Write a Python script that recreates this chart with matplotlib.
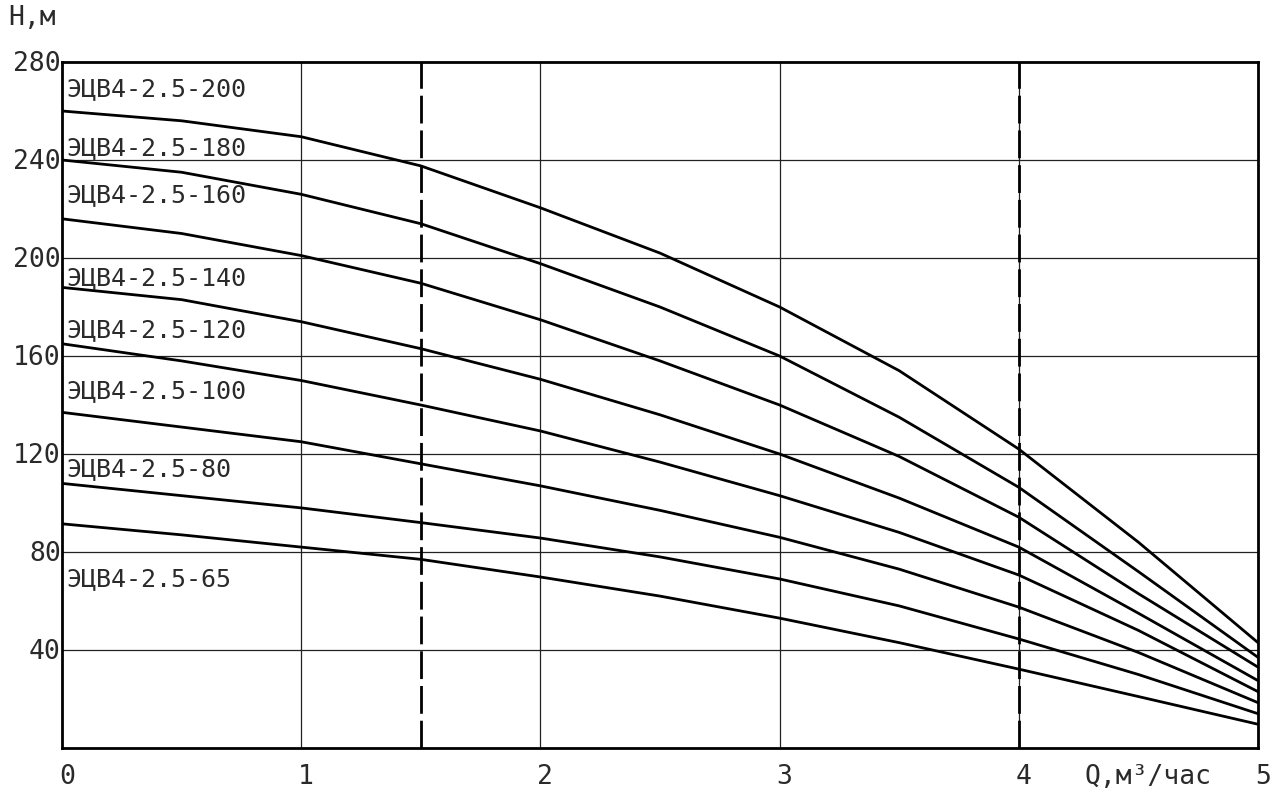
import numpy as np
import matplotlib
matplotlib.use('Agg')
import matplotlib.pyplot as plt

# flow, m3/h
q = [0, 0.5, 1, 1.5, 2, 2.5, 3, 3.5, 4, 4.5, 5]

# head curves, m
h200 = [260, 256, 249.5, 237.6, 220.5, 202, 180, 154, 122, 84, 43]
h180 = [240, 235, 226, 214, 197.7, 180, 160, 135, 106.4, 72, 37]
h160 = [216, 210, 201, 189.7, 174.8, 158, 140, 119, 94.2, 63, 33]
h140 = [188, 183, 174, 163, 150.5, 136, 120, 102, 82, 55, 27.5]
h120 = [165, 158, 150, 140, 129.4, 116.7, 103, 88, 70.6, 48, 23]
h100 = [137, 131, 125, 116, 107, 97, 86, 73, 57.5, 39, 18.5]
h80 = [108, 103, 98, 92, 85.7, 78, 69, 58, 44.5, 30, 14]
h65 = [91.5, 87, 82, 77, 69.8, 62, 53, 43, 32.2, 21, 9.7]

names = ['ЭЦВ4-2.5-200', 'ЭЦВ4-2.5-180', 'ЭЦВ4-2.5-160', 'ЭЦВ4-2.5-140',
         'ЭЦВ4-2.5-120', 'ЭЦВ4-2.5-100', 'ЭЦВ4-2.5-80', 'ЭЦВ4-2.5-65']
label_y = [269, 245, 225.5, 192, 170.5, 145.5, 114, 69]

x_ticks = [0, 1, 2, 3, 4, 5]
y_ticks = [40, 80, 120, 160, 200, 240, 280]
work_zone = [1.5, 4]

fnt = 'DejaVu Sans Mono'
txt_col = '#2a2a2a'

fig = plt.figure(figsize=(12.75, 7.98), dpi=100)
ax = fig.add_axes([62/1275, 1-748/798, (1258-62)/1275, (748-62)/798])

ax.set_xlim(0, 5)
ax.set_ylim(0, 280)

# grid
for xv in x_ticks[1:-1]:
    ax.axvline(xv, color='#222222', lw=0.9, zorder=1)
for yv in y_ticks[:-1]:
    ax.axhline(yv, color='#222222', lw=0.9, zorder=1)

# working zone borders
for xv in work_zone:
    ax.axvline(xv, color='black', lw=2.0, dashes=(10, 2.5), zorder=2)

curves = [h200, h180, h160, h140, h120, h100, h80, h65]
for hh in curves:
    ax.plot(q, hh, color='black', lw=2.0, solid_joinstyle='round', zorder=3)

for nm, yy in zip(names, label_y):
    ax.text(0.02, yy, nm, fontsize=18, family=fnt, va='center', ha='left',
            color=txt_col, zorder=4)

for s in ax.spines.values():
    s.set_linewidth(2.0)

ax.set_xticks([])
ax.set_yticks([])

# tick labels as text, like the drawing
for xv in x_ticks:
    ax.text(xv + 0.02, -12, str(xv), fontsize=19, family=fnt, ha='center', va='center',
            color=txt_col, clip_on=False)
for yv in y_ticks:
    ax.text(-0.005, yv - 1, str(yv), fontsize=19, family=fnt, ha='right', va='center',
            color=txt_col, clip_on=False)

ax.text(4.54, -12, 'Q,м³/час', fontsize=19, family=fnt, ha='center', va='center',
        color=txt_col, clip_on=False)
fig.text(8/1275, 1-18/798, 'H,м', fontsize=19, family=fnt, ha='left', va='center',
         color=txt_col)

fig.savefig('out.png', dpi=100)
